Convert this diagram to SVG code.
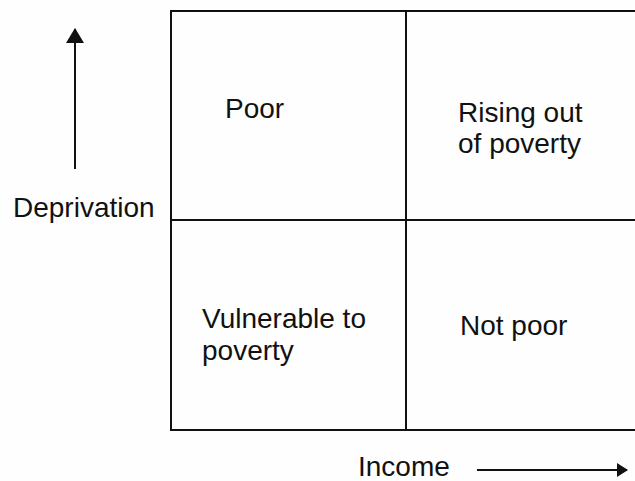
<svg xmlns="http://www.w3.org/2000/svg" width="635" height="481" viewBox="0 0 635 481">
  <style>
    .grid { fill: none; stroke: #111; stroke-width: 2; }
    .axis { stroke: #111; stroke-width: 2; fill: none; }
    .label { font-family: "Liberation Sans", Arial, sans-serif; font-size: 28px; fill: #111; }
  </style>
  <defs>
    <!-- broad head for the vertical axis -->
    <marker id="head-up" viewBox="0 0 15 18" refX="14" refY="9" markerWidth="15" markerHeight="18" markerUnits="userSpaceOnUse" orient="auto">
      <path d="M0,0 L15,9 L0,18 Z" fill="#111"/>
    </marker>
    <!-- narrower head for the horizontal axis -->
    <marker id="head-right" viewBox="0 0 11 14" refX="10" refY="7" markerWidth="11" markerHeight="14" markerUnits="userSpaceOnUse" orient="auto">
      <path d="M0,0 L11,7 L0,14 Z" fill="#111"/>
    </marker>
  </defs>
  <rect width="635" height="481" fill="#fefefe"/>

  <!-- quadrant grid; right border runs past the page edge -->
  <g id="grid">
    <rect class="grid" x="171" y="11" width="480" height="419"/>
    <line class="grid" x1="406" y1="11" x2="406" y2="430"/>
    <line class="grid" x1="171" y1="220" x2="651" y2="220"/>
  </g>

  <g id="poor">
    <text class="label" x="225" y="118">Poor</text>
  </g>
  <g id="rising">
    <text class="label" x="458" y="122">Rising out</text>
    <text class="label" x="458" y="153">of poverty</text>
  </g>
  <g id="vulnerable">
    <text class="label" x="202" y="328">Vulnerable to</text>
    <text class="label" x="202" y="360">poverty</text>
  </g>
  <g id="notpoor">
    <text class="label" x="460" y="335">Not poor</text>
  </g>

  <g id="axis-labels">
    <text class="label" x="13" y="217">Deprivation</text>
    <text class="label" x="358" y="476">Income</text>
  </g>

  <g id="connectors">
    <line class="axis" x1="75" y1="169" x2="75" y2="29" marker-end="url(#head-up)"/>
    <line class="axis" x1="477" y1="470" x2="627" y2="470" marker-end="url(#head-right)"/>
  </g>
</svg>
